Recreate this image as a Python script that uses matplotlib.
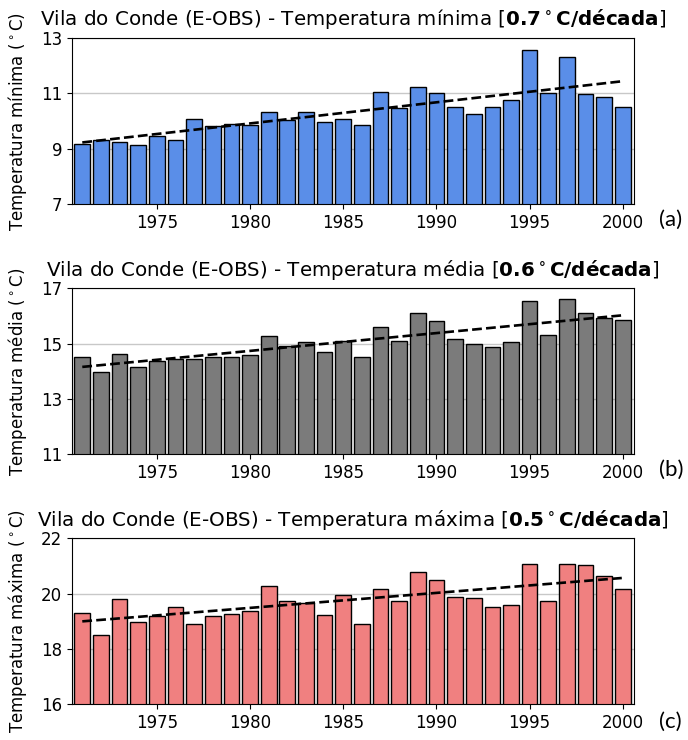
import numpy as np
import matplotlib
matplotlib.use('Agg')
import matplotlib.pyplot as plt

years = np.arange(1971, 2001)

# annual means
tmin = [9.18, 9.32, 9.26, 9.12, 9.47, 9.32, 10.09, 9.83, 9.89, 9.86,
        10.33, 10.04, 10.31, 9.95, 10.09, 9.87, 11.06, 10.47, 11.24, 11.02,
        10.50, 10.24, 10.50, 10.76, 12.56, 11.02, 12.30, 10.97, 10.86, 10.52]
tmed = [14.51, 13.96, 14.61, 14.14, 14.38, 14.44, 14.43, 14.51, 14.53, 14.59,
        15.28, 14.93, 15.05, 14.71, 15.10, 14.53, 15.59, 15.10, 16.12, 15.83,
        15.16, 14.98, 14.89, 15.05, 16.54, 15.31, 16.61, 16.10, 15.92, 15.85]
tmax = [19.31, 18.50, 19.81, 18.96, 19.20, 19.52, 18.89, 19.19, 19.25, 19.38,
        20.28, 19.75, 19.67, 19.23, 19.95, 18.90, 20.16, 19.73, 20.77, 20.49,
        19.87, 19.85, 19.53, 19.59, 21.07, 19.73, 21.07, 21.03, 20.64, 20.16]

series = [tmin, tmed, tmax]
names = ['mínima', 'média', 'máxima']
trends = ['0.7', '0.6', '0.5']
colors = ['#5a8ee8', '#7b7b7b', '#f08080']
ylims = [(7, 13), (11, 17), (16, 22)]
yticks = [[7, 9, 11, 13], [11, 13, 15, 17], [16, 18, 20, 22]]
tags = ['(a)', '(b)', '(c)']

fig = plt.figure(figsize=(6.88, 7.4), dpi=100)
plt.rcParams['font.size'] = 12

# axes boxes in figure fractions [left, bottom, width, height]
boxes = [[0.1047, 0.7239, 0.8168, 0.2251],
         [0.1047, 0.3861, 0.8168, 0.2243],
         [0.1047, 0.0482, 0.8168, 0.2244]]
tag_y = [0.703, 0.365, 0.025]

for i in range(3):
    ax = fig.add_axes(boxes[i])
    vals = np.array(series[i])
    ax.bar(years, vals, width=0.84, color=colors[i], edgecolor='black',
           linewidth=1.0, zorder=2)
    # linear trend
    p = np.polyfit(years, vals, 1)
    ax.plot(years, np.polyval(p, years), '--', color='black', lw=1.9, zorder=3)

    ax.set_xlim(1970.45, 2000.6)
    ax.set_ylim(*ylims[i])
    ax.set_yticks(yticks[i])
    ax.set_xticks([1975, 1980, 1985, 1990, 1995, 2000])
    ax.tick_params(labelsize=12)
    ax.grid(axis='y', color='#c8c8c8', lw=1.0, zorder=0)
    ax.set_axisbelow(True)

    ax.set_title('Vila do Conde (E-OBS) - Temperatura ' + names[i] +
                 r' [$\mathbf{' + trends[i] + r'^\circ C/década}$]',
                 fontsize=14.3, pad=9)
    ax.set_ylabel('Temperatura ' + names[i] + r' ($^\circ$C)', fontsize=12)
    ax.yaxis.set_label_coords(-0.077, 0.5)

    fig.text(0.975, tag_y[i], tags[i], fontsize=16, family='Lato',
             ha='center', va='center')

fig.savefig('out.png', dpi=100)
